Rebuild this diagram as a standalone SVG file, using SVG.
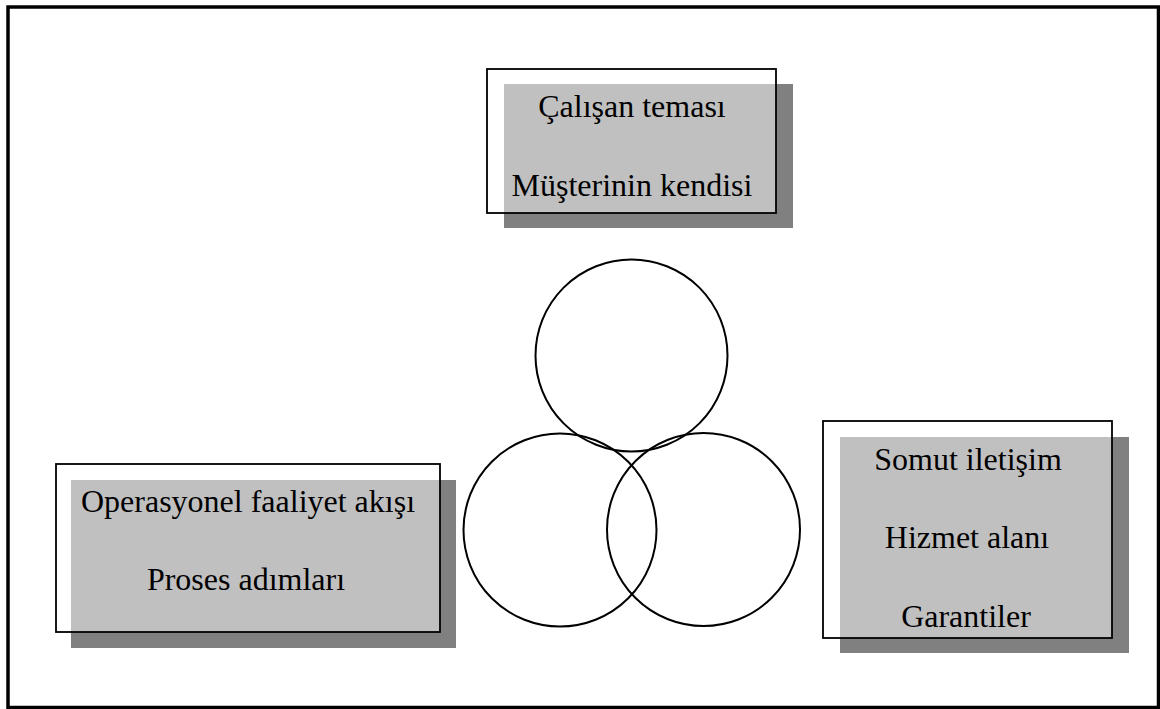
<svg xmlns="http://www.w3.org/2000/svg" width="1160" height="709" viewBox="0 0 1160 709">
<style>
.frame{fill:none;stroke:#000;stroke-width:3.5}
.shadow{fill:#808080}
.box{fill:#fff;fill-opacity:0.5;stroke:#000;stroke-width:1.8}
.circ{fill:none;stroke:#000;stroke-width:2}
.t{font-family:"Liberation Serif","Times New Roman",serif;font-size:32px;fill:#000;text-anchor:middle}
</style>
<rect x="0" y="0" width="1160" height="709" fill="#fff"/>
<rect class="frame" x="8" y="7" width="1150.5" height="700.5"/>
<g id="node-top">
<rect class="shadow" x="504" y="84" width="289" height="144"/>
<rect class="box" x="487" y="69" width="289" height="144"/>
<text class="t" x="632" y="117">Çalışan teması</text>
<text class="t" x="632" y="196">Müşterinin kendisi</text>
</g>
<g id="node-left">
<rect class="shadow" x="71" y="480" width="385" height="168"/>
<rect class="box" x="56" y="464" width="384" height="168"/>
<text class="t" x="248" y="512">Operasyonel faaliyet akışı</text>
<text class="t" x="246" y="590">Proses adımları</text>
</g>
<g id="node-right">
<rect class="shadow" x="840" y="437" width="289" height="216"/>
<rect class="box" x="823" y="421" width="289" height="217"/>
<text class="t" x="968" y="470">Somut iletişim</text>
<text class="t" x="967" y="548">Hizmet alanı</text>
<text class="t" x="966" y="627">Garantiler</text>
</g>
<g id="node-circles">
<circle class="circ" cx="631.5" cy="355.5" r="96"/>
<circle class="circ" cx="560" cy="530" r="96.5"/>
<circle class="circ" cx="703.5" cy="529.5" r="96.5"/>
</g>
<g id="connectors"></g>
</svg>
